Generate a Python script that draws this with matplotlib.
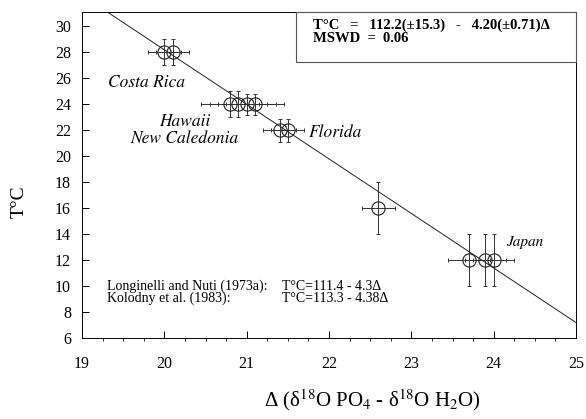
import numpy as np
import matplotlib.pyplot as plt
from matplotlib.ticker import MultipleLocator
from matplotlib.patches import Rectangle

plt.rcParams['font.family'] = ['Liberation Serif', 'DejaVu Serif']
plt.rcParams['mathtext.fontset'] = 'stix'

# data
delta = [20.0, 20.1, 20.8, 20.9, 21.0, 21.1, 21.4, 21.5, 22.6, 23.7, 23.9, 24.0]
temp = [28, 28, 24, 24, 24, 24, 22, 22, 16, 12, 12, 12]
delta_err = [0.2, 0.2, 0.35, 0.35, 0.35, 0.35, 0.2, 0.2, 0.2, 0.25, 0.25, 0.25]
temp_err = [1.0, 1.0, 1.0, 1.0, 0.8, 0.8, 0.9, 0.9, 2.0, 2.0, 2.0, 2.0]
intercept = 112.2
slope = -4.20

fig = plt.figure(figsize=(5.86, 4.19), dpi=100)
ax = fig.add_axes([0.14, 0.193, 0.843, 0.778])

ax.errorbar(delta, temp, xerr=delta_err, yerr=temp_err, fmt='none',
            ecolor='#333333', elinewidth=0.7, capsize=1.5, capthick=0.7)
ax.plot(delta, temp, 'o', mfc='none', mec='#222222', ms=9.5, mew=0.8)

xl = np.array([19.0, 25.0])
ax.plot(xl, intercept + slope * xl, color='#222222', lw=0.7)

ax.set_xlim(19, 25)
ax.set_ylim(6, 31.1)
ax.xaxis.set_major_locator(MultipleLocator(1))
ax.xaxis.set_minor_locator(MultipleLocator(0.25))
ax.yaxis.set_major_locator(MultipleLocator(2))
ax.tick_params(direction='in', labelsize=11.5, width=0.7)
ax.tick_params(axis='x', which='major', length=5, pad=13)
ax.tick_params(axis='x', which='minor', length=2.5)
ax.tick_params(axis='y', length=5, pad=8)
ax.tick_params(top=False, right=False)
for s in ax.spines.values():
    s.set_linewidth(0.7)

ax.set_ylabel('T°C', fontsize=14)
ax.yaxis.set_label_coords(-0.11, 0.42)
ax.set_xlabel('Δ (δ$^{18}$O PO$_4$ - δ$^{18}$O H$_2$O)', fontsize=15)
ax.xaxis.set_label_coords(0.587, -0.15)

lab = dict(family=['STIXGeneral', 'DejaVu Serif'], style='italic', fontsize=12.5, va='center')
ax.text(19.32, 25.7, 'Costa Rica', **lab)
ax.text(20.25, 22.7, 'Hawaii', ha='center', **lab)
ax.text(20.25, 21.4, 'New Caledonia', ha='center', **lab)
ax.text(21.76, 21.86, 'Florida', **lab)
ax.text(24.15, 13.4, 'Japan', family=['STIXGeneral', 'DejaVu Serif'], style='italic',
        fontsize=11, va='center')

small = dict(fontsize=10, va='center')
ax.text(19.3, 10.0, 'Longinelli and Nuti (1973a):', **small)
ax.text(19.3, 9.08, 'Kolodny et al. (1983):', **small)
ax.text(21.43, 10.0, 'T°C=111.4 - 4.3Δ', **small)
ax.text(21.43, 9.08, 'T°C=113.3 - 4.38Δ', **small)

# equation box, upper right
ax.add_patch(Rectangle((0.433, 0.847), 0.567, 0.153, transform=ax.transAxes,
                       fc='white', ec='#555555', lw=0.8, zorder=5, clip_on=False))
box = dict(transform=ax.transAxes, fontsize=10.5, fontweight='bold', va='center', zorder=6)
ax.text(0.468, 0.96, 'T°C   =   112.2(±15.3)   -   4.20(±0.71)Δ', **box)
ax.text(0.468, 0.92, 'MSWD  =  0.06', **box)

fig.savefig('out.png', dpi=100)
